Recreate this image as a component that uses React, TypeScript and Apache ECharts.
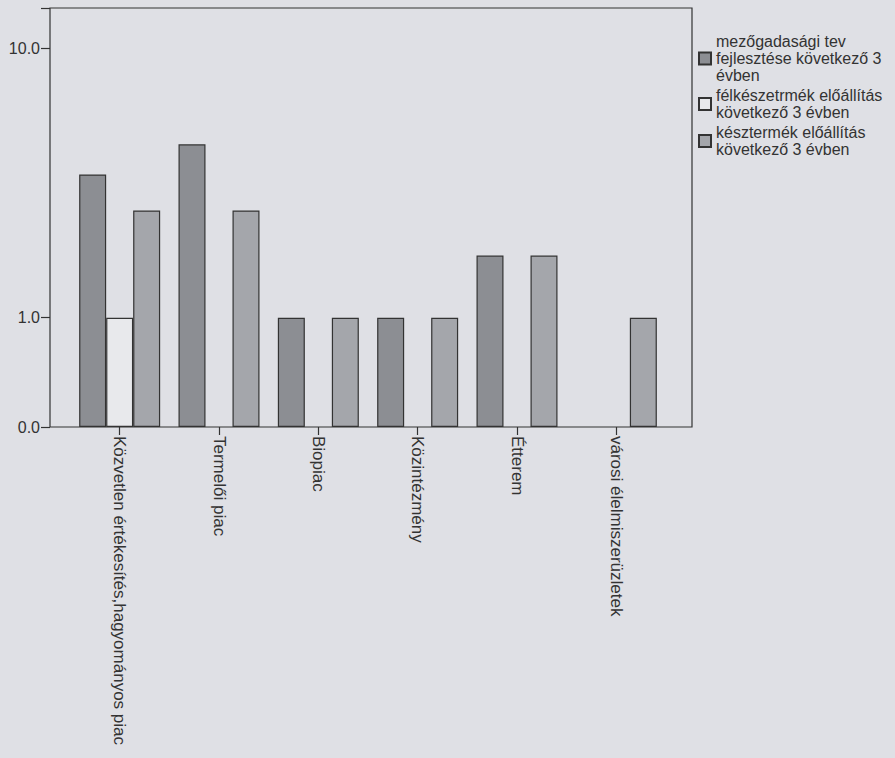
import React, { useEffect, useRef } from "react";
import * as echarts from "echarts";

const categories = [
  "Közvetlen értékesítés,hagyományos piac",
  "Termelői piac",
  "Biopiac",
  "Közintézmény",
  "Étterem",
  "városi élelmiszerüzletek",
];

const seriesNames = [
  "mezőgadasági tev fejlesztése következő 3 évben",
  "félkészetrmék előállítás következő 3 évben",
  "késztermék előállítás következő 3 évben",
];

const legendLabels: Record<string, string> = {
  "mezőgadasági tev fejlesztése következő 3 évben":
    "mezőgadasági tev\nfejlesztése következő 3\névben",
  "félkészetrmék előállítás következő 3 évben":
    "félkészetrmék előállítás\nkövetkező 3 évben",
  "késztermék előállítás következő 3 évben":
    "késztermék előállítás\nkövetkező 3 évben",
};

const agriDevelopment = [3.4, 4.4, 1, 1, 1.7, null];
const semiFinished = [1, null, null, null, null, null];
const finishedProduct = [2.5, 2.5, 1, 1, 1.7, 1];

const yMin = 0.393;
const yMax = 14.1;

const FONT = "Liberation Sans, Arial, sans-serif";
const INK = "#333333";

export default function App() {
  const ref = useRef<HTMLDivElement>(null);

  useEffect(() => {
    if (!ref.current) return;
    const chart = echarts.init(ref.current, null, { renderer: "svg" });
    const barStyle = (color: string) => ({
      color,
      borderColor: INK,
      borderWidth: 1.2,
    });
    chart.setOption({
      animation: false,
      backgroundColor: "#dfe0e5",
      textStyle: { fontFamily: FONT },
      grid: { left: 70, right: 229, top: 8, bottom: 331 },
      legend: {
        orient: "vertical",
        left: 698,
        top: 33,
        padding: 0,
        itemWidth: 12,
        itemHeight: 12,
        itemGap: 3,
        icon: "rect",
        data: seriesNames,
        formatter: (name: string) => legendLabels[name] || name,
        textStyle: {
          fontFamily: FONT,
          fontSize: 16,
          lineHeight: 17,
          color: INK,
        },
      },
      xAxis: {
        type: "category",
        data: categories,
        axisLine: { show: false },
        axisTick: {
          show: true,
          alignWithLabel: true,
          length: 8,
          lineStyle: { color: INK, width: 1.2 },
        },
        axisLabel: {
          rotate: -90,
          margin: 9,
          fontFamily: FONT,
          fontSize: 17,
          color: INK,
          interval: 0,
        },
      },
      yAxis: {
        type: "log",
        logBase: 10,
        min: yMin,
        max: yMax,
        startValue: yMin,
        offset: 20,
        axisLine: { show: false },
        splitLine: { show: false },
        axisTick: {
          show: true,
          length: 9,
          lineStyle: { color: INK, width: 1.2 },
        },
        axisLabel: {
          fontFamily: FONT,
          fontSize: 16,
          color: INK,
          margin: 10,
          formatter: (v: number) =>
            v < 0.5 ? "0.0" : v > 11 ? "" : v.toFixed(1),
        },
      },
      graphic: [
        {
          type: "rect",
          z: 0,
          shape: { x: 50, y: 8, width: 642, height: 419 },
          style: { fill: "none", stroke: INK, lineWidth: 1.2 },
        },
      ],
      series: [
        {
          name: seriesNames[0],
          type: "bar",
          data: agriDevelopment,
          barWidth: 27,
          barGap: "0%",
          itemStyle: barStyle("#8c8e93"),
        },
        {
          name: seriesNames[1],
          type: "bar",
          data: semiFinished,
          barWidth: 27,
          barGap: "0%",
          itemStyle: barStyle("#e8e9ec"),
        },
        {
          name: seriesNames[2],
          type: "bar",
          data: finishedProduct,
          barWidth: 27,
          barGap: "0%",
          itemStyle: barStyle("#a4a6ab"),
        },
      ],
    });
    return () => chart.dispose();
  }, []);

  return (
    <div
      ref={ref}
      style={{ position: "fixed", left: 0, top: 0, width: 895, height: 758 }}
    />
  );
}
